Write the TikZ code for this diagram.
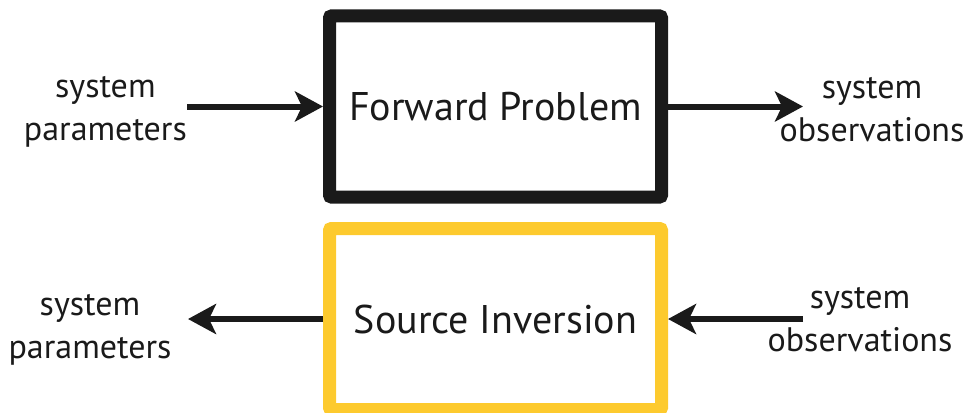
\documentclass[tikz,border=0pt]{standalone}
\usepackage{fontspec}
\setmainfont{PT Sans}
\usetikzlibrary{arrows.meta}
\definecolor{ink}{HTML}{1A1A1A}
\definecolor{gold}{HTML}{FDCA2E}
\tikzset{
  block/.style={draw=#1, line width=13pt, rounded corners=2pt, minimum width=332pt,
    minimum height=181pt, text=ink, font=\fontsize{40}{48}\selectfont},
  lbl/.style={text=ink, align=center, inner sep=0pt, font=\fontsize{34}{43}\selectfont},
  flow/.style={draw=ink, line width=6pt, -{Stealth[length=28pt, width=30pt, inset=7pt]}}
}
\begin{document}
\begin{tikzpicture}[x=1pt, y=-1pt]
  \useasboundingbox (0,0) rectangle (973,412);
  % upper row: forward problem
  \node[block=ink] (fp) at (495.5,106.5) {Forward Problem};
  \node[lbl, anchor=east] (inL) at (187,112) {system\\parameters};
  \node[lbl] (outR) at (872,110) {system\\observations};
  \coordinate (outTip) at (803,106.5);
  \draw[flow] (inL.east |- fp.west) -- (fp.west);
  \draw[flow] (fp.east) -- (outTip);
  % lower row: source inversion
  \node[block=gold] (si) at (495.5,319) {Source Inversion};
  \node[lbl] (resL) at (90,330) {system\\parameters};
  \node[lbl] (obsR) at (860,320) {system\\observations};
  \coordinate (resTip) at (188,319);
  \coordinate (obsTail) at (803,319);
  \draw[flow] (si.west) -- (resTip);
  \draw[flow] (obsTail) -- (si.east);
\end{tikzpicture}
\end{document}
